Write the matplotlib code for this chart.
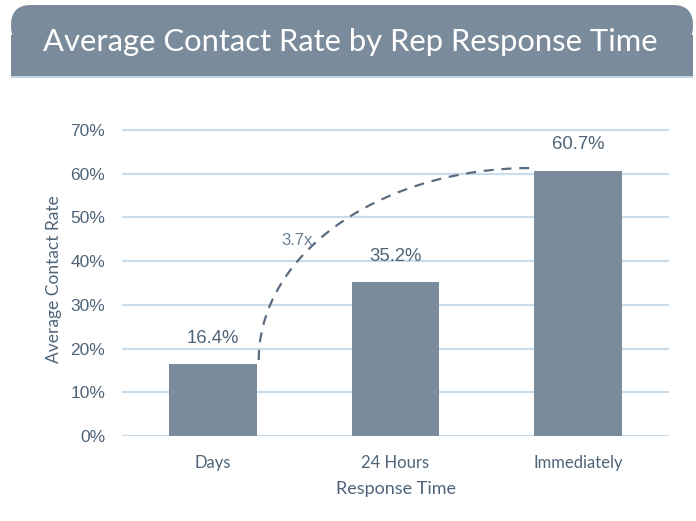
import numpy as np
import matplotlib
matplotlib.use("Agg")
import matplotlib.pyplot as plt
from matplotlib.patches import FancyBboxPatch, Rectangle

categories = ["Days", "24 Hours", "Immediately"]
values = [16.4, 35.2, 60.7]
value_labels = ["16.4%", "35.2%", "60.7%"]
yticks = [0, 10, 20, 30, 40, 50, 60, 70]
ytick_labels = ["0%", "10%", "20%", "30%", "40%", "50%", "60%", "70%"]
title = "Average Contact Rate by Rep Response Time"
multiplier_label = "3.7x"

BAR = "#7a8b9b"
GRID = "#c9dcec"
TXT = "#4f6478"

W, H = 696, 521
fig = plt.figure(figsize=(W / 100, H / 100), dpi=100)
fig.patch.set_facecolor("white")

def fx(px):
    return px / W
def fy(py):
    return 1 - py / H

# Banner with rounded top corners
r = 20
banner_l, banner_r, banner_t, banner_b = 11, 693, 5, 76
bb = FancyBboxPatch((fx(banner_l), fy(banner_b - 30)),
                    fx(banner_r) - fx(banner_l), fy(banner_t) - fy(banner_b - 30),
                    boxstyle="round,pad=0,rounding_size=%f" % (r / W),
                    transform=fig.transFigure, facecolor=BAR, edgecolor="none",
                    mutation_aspect=W / H)
fig.patches.append(bb)
fig.patches.append(Rectangle((fx(banner_l), fy(banner_b)), fx(banner_r) - fx(banner_l),
                             fy(banner_t + 30) - fy(banner_b), transform=fig.transFigure,
                             facecolor=BAR, edgecolor="none"))
fig.patches.append(Rectangle((fx(banner_l), fy(banner_b + 1.5)), fx(banner_r) - fx(banner_l),
                             fy(banner_b) - fy(banner_b + 1.5), transform=fig.transFigure,
                             facecolor="#c5d6e6", edgecolor="none"))
fig.text(fx(350), fy(42), title, fontsize=22.3, family="Lato", color="white",
         ha="center", va="center")

# Axes
y0px, ytop = 436, 72
pxper = 4.371
top_px = y0px - ytop * pxper
ax = fig.add_axes([fx(122), fy(y0px), fx(669) - fx(122), fy(top_px) - fy(y0px)])
ax.set_xlim(-0.5, 2.5)
ax.set_ylim(0, ytop)
for s in ax.spines.values():
    s.set_visible(False)
for tk in yticks:
    ax.axhline(tk, color=GRID, lw=1.6, zorder=0)

x = np.arange(len(categories))
ax.bar(x, values, width=0.48, color=BAR, zorder=2)
for xi, v, lab in zip(x, values, value_labels):
    ax.text(xi, v + 4.0, lab, ha="center", va="bottom", fontsize=13.3,
            family="Liberation Sans", color=TXT)

ax.set_yticks(yticks)
ax.set_yticklabels(ytick_labels, family="Liberation Sans", fontsize=12.5, color=TXT)
ax.set_xticks(x)
ax.set_xticklabels(categories, family="Lato", fontsize=12, color=TXT)
ax.tick_params(axis="both", length=0)
ax.tick_params(axis="y", pad=12)
ax.tick_params(axis="x", pad=14)
ax.set_ylabel("Average Contact Rate", family="Lato", fontsize=12.5, color=TXT, labelpad=6)
ax.set_xlabel("Response Time", family="Lato", fontsize=13, color=TXT, labelpad=7)

# Dashed arc (quarter ellipse) from Days bar to Immediately bar
xs, ys = 0.25, values[0] + 1.0
xe, ye = 1.74, values[2] + 0.6
t = np.linspace(0, np.pi / 2, 100)
ax.plot(xe - (xe - xs) * np.cos(t), ys + (ye - ys) * np.sin(t),
        ls=(0, (4.5, 3.5)), color="#5a6d80", lw=1.6, zorder=3)
ax.text(0.46, 44.8, multiplier_label, ha="center", va="center", fontsize=12,
        family="Liberation Sans", color="#6a7f93")

fig.savefig("out.png", dpi=100)
